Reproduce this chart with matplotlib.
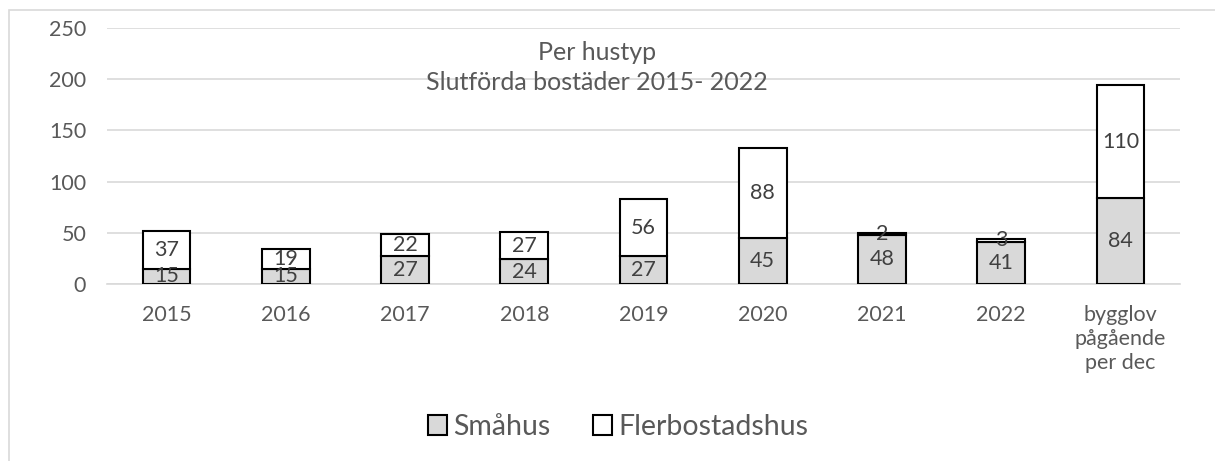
import matplotlib.pyplot as plt
from matplotlib.patches import Rectangle

categories = ["2015", "2016", "2017", "2018", "2019", "2020", "2021", "2022",
              "bygglov\npågående\nper dec"]
smahus = [15, 15, 27, 24, 27, 45, 48, 41, 84]
flerbostadshus = [37, 19, 22, 27, 56, 88, 2, 3, 110]
yticks = [0, 50, 100, 150, 200, 250]

plt.rcParams['font.family'] = ['Lato', 'DejaVu Sans']
W, H = 1215, 461
fig = plt.figure(figsize=(W / 100, H / 100), dpi=100)
ax = fig.add_axes([107 / W, 1 - 284 / H, (1180 - 107) / W, (284 - 28) / H])

x = list(range(len(categories)))
b1 = ax.bar(x, smahus, width=0.4, color="#d9d9d9", edgecolor="black", linewidth=1.5,
            label="Småhus", zorder=3)
b2 = ax.bar(x, flerbostadshus, width=0.4, bottom=smahus, color="white",
            edgecolor="black", linewidth=1.5, label="Flerbostadshus", zorder=3)
ax.bar_label(b1, labels=[str(v) for v in smahus], label_type="center",
             fontsize=15.5, color="#404040", zorder=4)
ax.bar_label(b2, labels=[str(v) for v in flerbostadshus], label_type="center",
             fontsize=15.5, color="#404040", zorder=4)

ax.set_xlim(-0.5, len(categories) - 0.5)
ax.set_ylim(0, 250)
ax.set_yticks(yticks)
ax.set_xticks(x)
ax.set_xticklabels(categories, fontsize=15.5, color="#595959", linespacing=1.25)
ax.tick_params(axis="y", labelsize=15.5, labelcolor="#595959", length=0, pad=15)
ax.tick_params(axis="x", length=0, pad=15)
ax.yaxis.grid(True, color="#d9d9d9", linewidth=1.2, zorder=0)
for s in ["top", "right", "left"]:
    ax.spines[s].set_visible(False)
ax.spines["bottom"].set_color("#d9d9d9")
ax.spines["bottom"].set_linewidth(1.2)

fig.text(597 / W, 1 - 53 / H, "Per hustyp", ha="center", va="center",
         fontsize=18, color="#595959")
fig.text(597 / W, 1 - 83 / H, "Slutförda bostäder 2015- 2022", ha="center",
         va="center", fontsize=18, color="#595959")

leg = fig.legend(loc="center", bbox_to_anchor=(618 / W, 1 - 427 / H), ncol=2,
                 frameon=False, fontsize=20.5, handlelength=0.68, handleheight=0.68,
                 handletextpad=0.2, columnspacing=1.5, labelcolor="#595959")

fig.patches.append(Rectangle((9 / W, -0.1), 1.2, 1 - 10 / H + 0.1,
                             transform=fig.transFigure, fill=False,
                             edgecolor="#d9d9d9", linewidth=1.2))

fig.savefig("out.png", dpi=100)
